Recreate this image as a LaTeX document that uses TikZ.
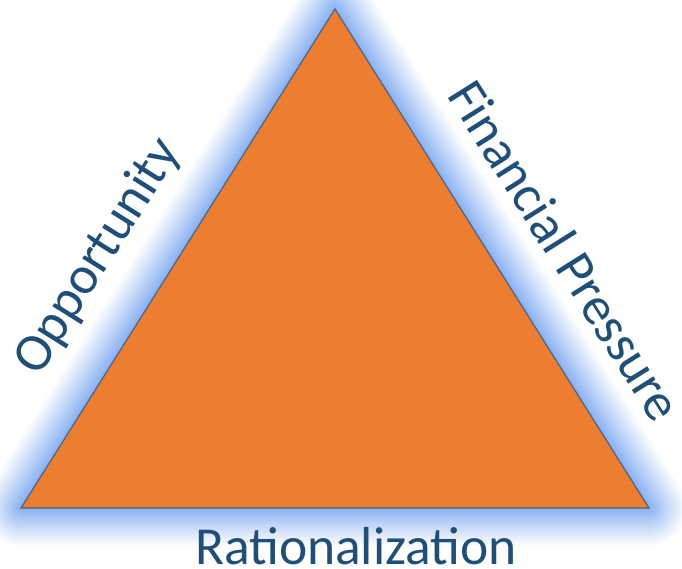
\documentclass[tikz,border=0pt]{standalone}
\usepackage{fontspec}
\setmainfont{Carlito}
\definecolor{fillorange}{HTML}{ED7D31}
\definecolor{edgeblue}{HTML}{4A6584}
\definecolor{glowblue}{HTML}{8AB2F2}
\definecolor{labelblue}{HTML}{1F4E79}
\begin{document}
\begin{tikzpicture}[x=1pt,y=1pt,
  sidelabel/.style={text=labelblue, font=\fontsize{53.5}{60}\selectfont, inner sep=0pt},
  triedge/.style={draw=edgeblue, line width=1.2pt, line join=miter}]
\useasboundingbox (0,0) rectangle (682,568);
\clip (0,0) rectangle (682,568);
% corners of the triangle
\coordinate (top) at (335,559);
\coordinate (bl) at (21,60);
\coordinate (br) at (649,60);
% soft blue glow: nested strokes, widest and palest first
\foreach \d in {38,37,...,1}{
  \pgfmathsetmacro\lw{2*\d}
  \pgfmathsetmacro\mix{100*(1-(\d-1)/38)^1.1}
  \draw[glowblue!\mix!white, line width=\lw pt, line join=round]
    (top) -- (bl) -- (br) -- cycle;
}
% the triangle itself
\filldraw[fill=fillorange, triedge] (top) -- (bl) -- (br) -- cycle;
% side labels
\node[sidelabel, anchor=base] (rat) at (356,4) {Rationalization};
\node[sidelabel, anchor=base west, rotate=57.83] (opp) at (39,190.5) {Opportunity};
\node[sidelabel, anchor=base west, rotate=-57.83] (fin) at (446,473) {Financial Pressure};
\end{tikzpicture}
\end{document}
